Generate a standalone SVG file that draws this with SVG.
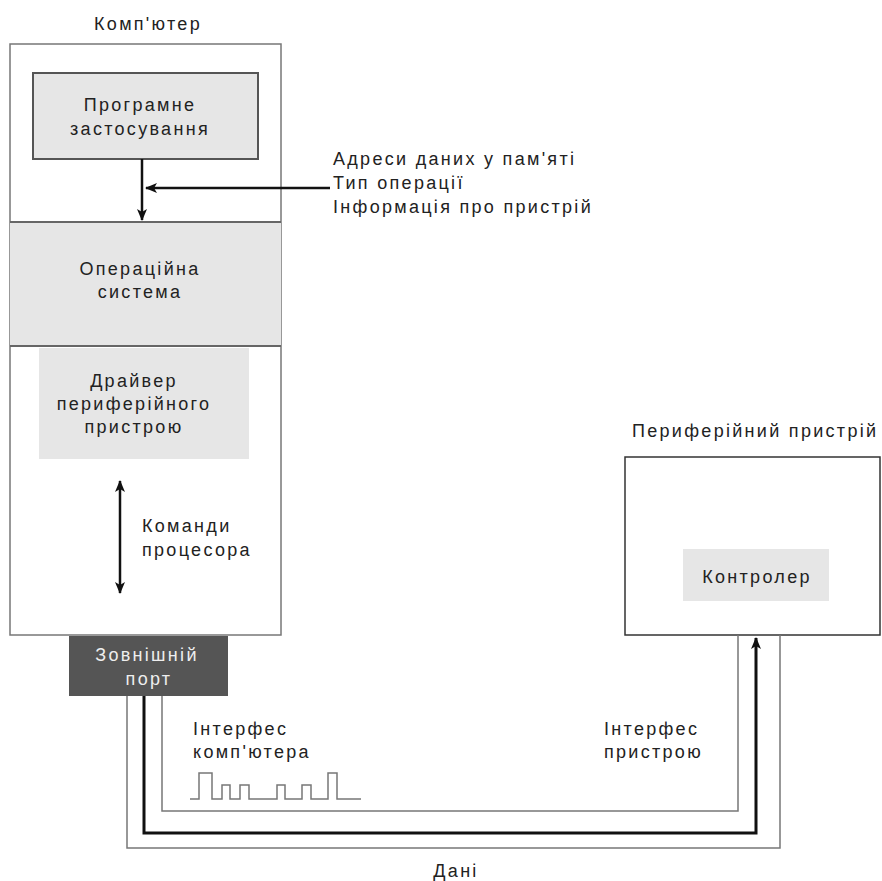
<svg xmlns="http://www.w3.org/2000/svg" width="882" height="881" viewBox="0 0 882 881">
  <style>
    text { font-family: "Liberation Sans", Arial, sans-serif; font-size: 18px; letter-spacing: 2.3px; fill: #222; }
    .mid { text-anchor: middle; }
    .light { fill: #e6e6e6; }
    .sep { stroke: #666; stroke-width: 2; }
    .wire { fill: none; stroke: #777; stroke-width: 1.5; }
    .bus { fill: none; stroke: #111; stroke-width: 3; }
    .arrow { fill: none; stroke: #111; stroke-width: 2.5; }
  </style>
  <defs>
    <marker id="head" viewBox="0 0 12 10" refX="11" refY="5" markerWidth="12" markerHeight="10" markerUnits="userSpaceOnUse" orient="auto-start-reverse">
      <path d="M0,0 L12,5 L0,10 L3,5 z" fill="#111"/>
    </marker>
  </defs>
  <rect width="882" height="881" fill="#fff"/>

  <!-- computer -->
  <g id="computer">
    <text x="148" y="30" class="mid">Комп'ютер</text>
    <rect x="10" y="44" width="271" height="591" fill="#fff" stroke="#777" stroke-width="1.5"/>
  </g>

  <g id="application">
    <rect x="33" y="73" width="225" height="86" class="light" stroke="#555" stroke-width="2"/>
    <text x="140" y="111" class="mid">Програмне</text>
    <text x="140" y="135" class="mid">застосування</text>
  </g>

  <g id="os">
    <rect x="10" y="222" width="271" height="124" class="light"/>
    <line x1="10" y1="222" x2="281" y2="222" class="sep"/>
    <line x1="10" y1="346" x2="281" y2="346" class="sep"/>
    <text x="140" y="275" class="mid">Операційна</text>
    <text x="140" y="298" class="mid">система</text>
  </g>

  <g id="driver">
    <rect x="39" y="348" width="210" height="111" class="light"/>
    <text x="134" y="387" class="mid">Драйвер</text>
    <text x="134" y="410" class="mid">периферійного</text>
    <text x="134" y="433" class="mid">пристрою</text>
  </g>

  <g id="port">
    <rect x="69" y="636" width="159" height="60" fill="#555"/>
    <text x="147" y="661" class="mid" style="fill:#eee">Зовнішній</text>
    <text x="149" y="685" class="mid" style="fill:#eee">порт</text>
  </g>

  <g id="device">
    <text x="632" y="437">Периферійний пристрій</text>
    <rect x="625" y="457" width="255" height="178" fill="#fff" stroke="#333" stroke-width="1.5"/>
  </g>

  <g id="controller">
    <rect x="683" y="549" width="146" height="52" class="light"/>
    <text x="757" y="583" class="mid">Контролер</text>
  </g>

  <!-- labels -->
  <g id="request-info">
    <text x="333" y="165">Адреси даних у пам'яті</text>
    <text x="333" y="189">Тип операції</text>
    <text x="333" y="213">Інформація про пристрій</text>
  </g>
  <g id="cpu-commands">
    <text x="142" y="532">Команди</text>
    <text x="142" y="556">процесора</text>
  </g>
  <g id="computer-interface">
    <text x="193" y="735">Інтерфес</text>
    <text x="193" y="758">комп'ютера</text>
  </g>
  <g id="device-interface">
    <text x="604" y="735">Інтерфес</text>
    <text x="604" y="758">пристрою</text>
  </g>
  <g id="data">
    <text x="456" y="877" class="mid">Дані</text>
  </g>

  <!-- signal waveform -->
  <path d="M190,799 H199 V773 H212 V799 H222 V785 H230 V799 H240 V785 H249 V799 H277 V785 H285 V799 H302 V785 H311 V799 H328 V773 H337 V799 H361" fill="none" stroke="#777" stroke-width="1.5"/>

  <!-- connectors -->
  <g id="connectors">
    <line x1="142" y1="159" x2="142" y2="220" class="arrow" marker-end="url(#head)"/>
    <line x1="330" y1="188" x2="146" y2="188" class="arrow" marker-end="url(#head)"/>
    <line x1="120" y1="481" x2="120" y2="593" class="arrow" marker-start="url(#head)" marker-end="url(#head)"/>
    <path d="M162,696 V811 H738 V635" class="wire"/>
    <path d="M127,696 V848 H780 V635" class="wire"/>
    <path d="M144,696 V833 H756 V638" class="bus" marker-end="url(#head)"/>
  </g>
</svg>
